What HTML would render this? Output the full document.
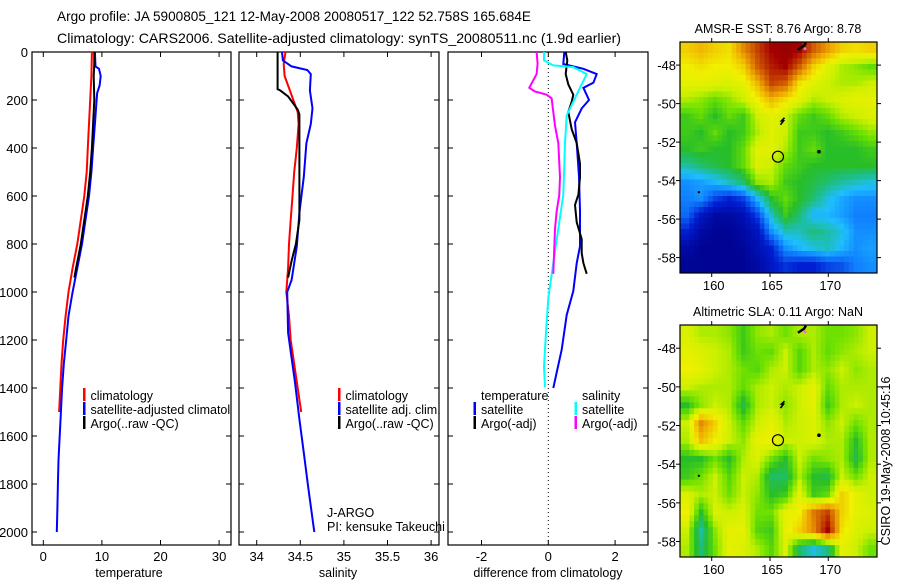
<!DOCTYPE html>
<html><head><meta charset="utf-8"><style>
html,body{margin:0;padding:0;background:#fff;}
svg{display:block;font-family:"Liberation Sans",sans-serif;}
</style></head><body>
<svg id="fig" width="900" height="580" viewBox="0 0 900 580" xmlns="http://www.w3.org/2000/svg">
<defs>
<clipPath id="c1"><rect x="32" y="52" width="199" height="493"/></clipPath>
<clipPath id="c2"><rect x="239" y="52" width="200" height="493"/></clipPath>
</defs>
<rect width="900" height="580" fill="#fff"/>
<text x="57" y="21" font-size="14" textLength="474" lengthAdjust="spacingAndGlyphs">Argo profile: JA 5900805_121 12-May-2008 20080517_122 52.758S 165.684E</text>
<text x="57" y="43" font-size="14" textLength="564" lengthAdjust="spacingAndGlyphs">Climatology: CARS2006. Satellite-adjusted climatology: synTS_20080511.nc (1.9d earlier)</text>
<g id="plots"></g>
</svg>
<script>
// ---- depth levels & series (temperature panel)
const tClimDepth=[0,100,200,300,400,500,600,700,800,900,1000,1100,1200,1300,1400,1500];
const tClimVal=[8.3,8.2,8.0,7.8,7.6,7.4,7.0,6.4,5.8,5.0,4.3,3.8,3.4,3.1,2.9,2.7];
const tSatDepth=[0,60,70,100,140,170,200,300,400,500,600,700,800,900,1000,1100,1200,1300,1400,1500,1600,1700,1800,1900,2000];
const tSatVal=[8.8,8.9,9.5,9.8,9.6,9.2,9.1,8.8,8.5,8.2,7.8,7.2,6.6,5.8,5.0,4.3,3.9,3.5,3.2,3.0,2.8,2.6,2.5,2.4,2.3];
const tArgoDepth=[0,50,100,200,300,400,500,600,700,800,900,940];
const tArgoVal=[8.7,8.7,8.6,8.7,8.5,8.3,8.0,7.6,7.0,6.4,5.6,5.3];
// ---- salinity panel
const sClimDepth=[0,50,100,150,200,250,300,400,500,600,700,800,900,1000,1100,1200,1300,1400,1500];
const sClimVal=[34.33,34.31,34.32,34.37,34.42,34.47,34.48,34.46,34.43,34.41,34.39,34.37,34.36,34.34,34.37,34.39,34.43,34.47,34.51];
const sSatDepth=[0,35,60,75,92,160,235,300,380,520,670,810,950,1000,1170,1380,1530,1670,1810,2000];
const sSatVal=[34.29,34.30,34.40,34.58,34.62,34.61,34.64,34.62,34.57,34.54,34.49,34.46,34.40,34.35,34.36,34.44,34.49,34.54,34.59,34.66];
const sArgoDepth=[0,155,160,185,215,240,260,700,800,870,940];
const sArgoVal=[34.24,34.24,34.27,34.36,34.42,34.47,34.49,34.49,34.45,34.40,34.36];
// ---- difference panel
const dTSatDepth=[0,50,70,92,128,149,200,235,293,380,520,660,809,880,996,1096,1240,1400];
const dTSatVal=[0.48,0.45,1.05,1.45,1.35,1.05,1.22,1.0,0.8,0.85,0.92,0.95,0.95,0.85,0.75,0.55,0.4,0.15];
const dTArgoDepth=[0,35,92,135,178,207,250,322,379,465,522,594,637,709,780,838,880,924];
const dTArgoVal=[0.52,0.57,0.52,0.6,0.75,0.7,0.6,0.7,0.85,0.95,0.95,0.9,0.8,0.85,1.0,1.0,1.05,1.15];
const dSSatDepth=[0,35,56,63,92,149,207,264,379,594,737,880,1024,1168,1311,1397];
const dSSatVal=[-0.13,-0.13,0.15,0.75,1.15,0.95,0.75,0.55,0.5,0.45,0.3,0.15,0,-0.07,-0.13,-0.1];
const dSArgoDepth=[0,49,92,149,164,178,193,307,379,522,594,666,737,924];
const dSArgoVal=[-0.35,-0.32,-0.35,-0.57,-0.4,-0.05,0.1,0.2,0.3,0.35,0.33,0.25,0.2,0.15];
// ---- ticks
const depthTicks=[0,200,400,600,800,1000,1200,1400,1600,1800,2000];
const tTicks=[0,10,20,30];
const sTicks=[34,34.5,35,35.5,36];
const sTickLabels=["34","34.5","35","35.5","36"];
const dTicks=[-2,0,2];
const lonTicks=[160,165,170];
const latTicks=[-48,-50,-52,-54,-56,-58];
// ---- map grids (normalized colour values 0..1, rows north->south)
const sstGrid=[
[.72,.75,.72,.70,.80,.88,.95,.98,.95,.85,.78,.72,.70,.72],
[.68,.70,.68,.68,.72,.85,.92,.95,.85,.72,.65,.60,.58,.55],
[.66,.66,.65,.64,.66,.75,.88,.85,.70,.65,.62,.60,.60,.62],
[.60,.58,.55,.58,.62,.68,.75,.70,.65,.60,.62,.64,.66,.66],
[.52,.55,.50,.55,.52,.62,.66,.62,.55,.52,.55,.60,.62,.64],
[.52,.50,.55,.50,.52,.60,.65,.62,.52,.52,.50,.52,.55,.58],
[.50,.52,.50,.50,.55,.65,.65,.60,.52,.55,.50,.50,.50,.52],
[.42,.45,.48,.50,.55,.64,.62,.55,.52,.50,.50,.50,.50,.50],
[.30,.32,.35,.40,.45,.58,.60,.52,.50,.48,.45,.42,.40,.38],
[.28,.30,.20,.15,.20,.35,.50,.55,.50,.45,.38,.33,.30,.30],
[.25,.12,.05,.05,.08,.20,.40,.52,.45,.35,.35,.32,.28,.28],
[.15,.05,.02,.02,.05,.10,.30,.40,.40,.45,.42,.38,.30,.30],
[.05,.02,.02,.02,.03,.08,.15,.30,.35,.38,.40,.35,.30,.32],
[.02,.02,.02,.02,.02,.05,.12,.18,.15,.15,.20,.22,.28,.30]];
const slaGrid=[
[.64,.60,.60,.58,.52,.58,.60,.56,.60,.60,.56,.56,.58,.62],
[.66,.64,.62,.60,.52,.56,.55,.62,.54,.60,.55,.58,.60,.62],
[.68,.66,.62,.60,.56,.54,.60,.62,.54,.60,.58,.62,.58,.60],
[.62,.60,.60,.60,.55,.60,.62,.60,.62,.66,.55,.60,.60,.60],
[.50,.58,.62,.60,.48,.60,.62,.58,.62,.66,.52,.60,.62,.60],
[.62,.80,.72,.62,.55,.62,.66,.60,.62,.64,.58,.62,.56,.60],
[.60,.74,.68,.62,.58,.66,.68,.62,.62,.64,.60,.60,.50,.60],
[.50,.50,.56,.50,.60,.64,.56,.50,.62,.56,.58,.60,.48,.60],
[.52,.56,.62,.54,.62,.60,.46,.46,.60,.50,.48,.62,.56,.62],
[.64,.60,.62,.56,.62,.58,.50,.52,.66,.52,.55,.72,.66,.62],
[.68,.50,.64,.62,.64,.56,.56,.66,.68,.82,.88,.72,.66,.64],
[.62,.42,.58,.66,.66,.54,.52,.66,.72,.80,.95,.70,.64,.62],
[.60,.45,.56,.66,.64,.60,.54,.64,.46,.38,.44,.66,.62,.56]];
const profileLon=165.684, profileLat=-52.758;

const NS="http://www.w3.org/2000/svg";
const root=document.getElementById('plots');
function mk(tag,attrs,parent,txt){const e=document.createElementNS(NS,tag);for(const k in attrs)e.setAttribute(k,attrs[k]);if(txt!==undefined)e.textContent=txt;(parent||root).appendChild(e);return e;}
const yD=d=>52+d*0.24;
const xT=t=>43.3+t*5.86;
const xS=s=>256.7+(s-34)*87.2;
const xDf=v=>548.3+v*33.4;
const BOT=545,TOP=52;

function panel(x0,x1,name){
  const g=mk('g',{});
  
  
  const r=mk('rect',{x:x0,y:TOP,width:x1-x0,height:BOT-TOP,fill:'none',stroke:'#000','stroke-width':1.2},g);
  
  
  depthTicks.forEach(d=>{
    mk('line',{x1:x0,x2:x0+5,y1:yD(d),y2:yD(d),stroke:'#000'},g);
    mk('line',{x1:x1,x2:x1-5,y1:yD(d),y2:yD(d),stroke:'#000'},g);
  });
  return g;
}
function xticks(g,ticks,labels,fx){
  ticks.forEach((t,i)=>{
    const x=fx(t);
    mk('line',{x1:x,x2:x,y1:TOP,y2:TOP+5,stroke:'#000'},g);
    mk('line',{x1:x,x2:x,y1:BOT,y2:BOT-5,stroke:'#000'},g);
    const l=mk('text',{x:x,y:561,'font-size':13,'text-anchor':'middle'},g,labels[i]);
    
    
  });
}
function line(g,ds,vs,fx,color,name,w){
  const pts=ds.map((d,i)=>fx(vs[i]).toFixed(1)+','+yD(d).toFixed(1)).join(' ');
  const p=mk('polyline',{points:pts,fill:'none',stroke:color,'stroke-width':w||2,'stroke-linejoin':'miter'},g);
  
  
}
function legend(g,x,y,color,txt,name){
  if(color) mk('rect',{x:x,y:y-10,width:2.5,height:13,fill:color},g);
  const t=mk('text',{x:x+7.5,y:y+2,'font-size':12.5},g,txt);
  
  
}

// Panel 1 temperature
const p1=panel(32,231,'temperature-panel');
depthTicks.forEach(d=>{
  const l=mk('text',{x:28,y:yD(d)+5,'font-size':13,'text-anchor':'end'},p1,String(d));
  
  
});
xticks(p1,tTicks,tTicks.map(String),xT);
let xl=mk('text',{x:129,y:577,'font-size':12.5,'text-anchor':'middle'},p1,'temperature');

line(p1,tClimDepth,tClimVal,xT,'#f00','temp-climatology-line');
line(p1,tSatDepth,tSatVal,xT,'#00f','temp-satellite-line');
line(p1,tArgoDepth,tArgoVal,xT,'#000','temp-argo-line');
const lg1=mk('g',{'clip-path':'url(#c1)'},p1);
legend(lg1,83,398,'#f00','climatology','legend-climatology');
legend(lg1,83,412,'#00f','satellite-adjusted climatology','legend-satellite-adjusted');
legend(lg1,83,426,'#000','Argo(..raw -QC)','legend-argo');

// Panel 2 salinity
const p2=panel(239,439,'salinity-panel');
xticks(p2,sTicks,sTickLabels,xS);
xl=mk('text',{x:338,y:577,'font-size':12.5,'text-anchor':'middle'},p2,'salinity');

line(p2,sClimDepth,sClimVal,xS,'#f00','sal-climatology-line');
line(p2,sSatDepth,sSatVal,xS,'#00f','sal-satellite-line');
line(p2,sArgoDepth,sArgoVal,xS,'#000','sal-argo-line');
legend(p2,338,398,'#f00','climatology','legend-climatology');
legend(p2,338,412,'#00f','satellite adj. clim.','legend-satellite-adj');
legend(p2,338,426,'#000','Argo(..raw -QC)','legend-argo');
let tx=mk('text',{x:327,y:517,'font-size':12.5},p2,'J-ARGO');

tx=mk('text',{x:327,y:531,'font-size':12.5},p2,'PI: kensuke Takeuchi');


// Panel 3 difference
const p3=panel(448,648,'difference-panel');
xticks(p3,dTicks,dTicks.map(String),xDf);
mk('line',{x1:xDf(0),x2:xDf(0),y1:TOP,y2:BOT,stroke:'#000','stroke-width':1,'stroke-dasharray':'1,3'},p3);
xl=mk('text',{x:548,y:577,'font-size':12.5,'text-anchor':'middle'},p3,'difference from climatology');

line(p3,dTSatDepth,dTSatVal,xDf,'#00f','diff-temp-satellite-line');
line(p3,dTArgoDepth,dTArgoVal,xDf,'#000','diff-temp-argo-line');
line(p3,dSSatDepth,dSSatVal,xDf,'#0ff','diff-sal-satellite-line');
line(p3,dSArgoDepth,dSArgoVal,xDf,'#f0f','diff-sal-argo-line');
legend(p3,473.5,398,null,'temperature','legend-temperature-header');
legend(p3,473.5,412,'#00f','satellite','legend-temp-satellite');
legend(p3,473.5,426,'#000','Argo(-adj)','legend-temp-argo');
legend(p3,574.5,398,null,'salinity','legend-salinity-header');
legend(p3,574.5,412,'#0ff','satellite','legend-sal-satellite');
legend(p3,574.5,426,'#f0f','Argo(-adj)','legend-sal-argo');

// colour map
const stops=[[0,[0,0,140]],[0.15,[0,30,210]],[0.28,[16,128,255]],[0.36,[30,190,255]],[0.44,[30,190,130]],[0.5,[40,190,40]],[0.56,[110,225,0]],[0.62,[205,240,0]],[0.68,[240,240,0]],[0.76,[240,175,0]],[0.85,[210,95,0]],[0.95,[165,0,0]],[1,[145,0,0]]];
function cmap(v){
  for(let i=1;i<stops.length;i++){if(v<=stops[i][0]){const a=stops[i-1],b=stops[i];const f=(v-a[0])/(b[0]-a[0]);const c=a[1].map((x,k)=>Math.round(x+(b[1][k]-x)*f));return 'rgb('+c.join(',')+')';}}
  return 'rgb(145,0,0)';
}
function sample(grid,fr,fc){
  const R=grid.length,C=grid[0].length;
  const r=Math.min(Math.max(fr-0.5,0),R-1),c=Math.min(Math.max(fc-0.5,0),C-1);
  const r0=Math.floor(r),c0=Math.floor(c),r1=Math.min(r0+1,R-1),c1=Math.min(c0+1,C-1);
  const a=r-r0,b=c-c0;
  return grid[r0][c0]*(1-a)*(1-b)+grid[r0][c1]*(1-a)*b+grid[r1][c0]*a*(1-b)+grid[r1][c1]*a*b;
}
const LON0=157.28,LON1=174.18,LAT0=-46.8,LAT1=-58.8;
function mapPanel(grid,y0,y1,title,name){
  const g=mk('g',{});
  
  
  const X0=680,X1=877;
  const lx=lon=>X0+(lon-LON0)/(LON1-LON0)*(X1-X0);
  const ly=lat=>y0+(LAT0-lat)/(LAT0-LAT1)*(y1-y0);
  const rows=grid.length,cols=grid[0].length,SUB=3;
  const cw=(X1-X0)/(cols*SUB),ch=(y1-y0)/(rows*SUB);
  for(let r=0;r<rows*SUB;r++)for(let c=0;c<cols*SUB;c++){
    const v=sample(grid,(r+0.5)/SUB,(c+0.5)/SUB);
    const cell=mk('rect',{x:(X0+c*cw).toFixed(2),y:(y0+r*ch).toFixed(2),width:(cw+0.5).toFixed(2),height:(ch+0.5).toFixed(2),fill:cmap(v)},g);
    
    
  }
  mk('rect',{x:X0,y:y0,width:X1-X0,height:y1-y0,fill:'none',stroke:'#000','stroke-width':1.2},g);
  lonTicks.forEach(l=>{
    const x=lx(l);
    mk('line',{x1:x,x2:x,y1:y0,y2:y0-4,stroke:'#000'},g);
    mk('line',{x1:x,x2:x,y1:y1,y2:y1+4,stroke:'#000'},g);
    const t=mk('text',{x:x+2,y:y1+17,'font-size':13,'text-anchor':'middle'},g,String(l));
    
  });
  latTicks.forEach(l=>{
    const y=ly(l);
    mk('line',{x1:X0,x2:X0-4,y1:y,y2:y,stroke:'#000'},g);
    mk('line',{x1:X1,x2:X1+4,y1:y,y2:y,stroke:'#000'},g);
    const t=mk('text',{x:676,y:y+5,'font-size':13,'text-anchor':'end'},g,String(l));
    
  });
  const c=mk('circle',{cx:lx(profileLon),cy:ly(profileLat),r:5.5,fill:'none',stroke:'#000','stroke-width':1.2},g);
  
  mk('circle',{cx:lx(169.2),cy:ly(-52.5),r:1.8,fill:'#000'},g);
  mk('circle',{cx:lx(158.9),cy:ly(-54.6),r:1.2,fill:'#000'},g);
  mk('path',{d:`M${lx(165.9)} ${ly(-51.1)} l3 -4 l-2 0 l3 -3`,fill:'none',stroke:'#000','stroke-width':1.6},g);
  mk('path',{d:`M${lx(167.4)} ${ly(-47.2)} l6 -4 l2 -3`,fill:'none',stroke:'#000','stroke-width':2.5},g);
  mk('circle',{cx:lx(168),cy:ly(-47.15),r:1.5,fill:'#f6c'},g);
  const tt=mk('text',{x:778,y:y0-9,'font-size':12.5,'text-anchor':'middle'},g,title);
  
}
mapPanel(sstGrid,42,273,'AMSR-E SST: 8.76 Argo: 8.78','sst-map');
mapPanel(slaGrid,325,557,'Altimetric SLA: 0.11 Argo: NaN','sla-map');
const stamp=mk('text',{x:0,y:0,'font-size':12.5,'text-anchor':'middle',transform:'translate(890,461) rotate(-90)'},root,'CSIRO 19-May-2008 10:45:16');


</script>
</body></html>
